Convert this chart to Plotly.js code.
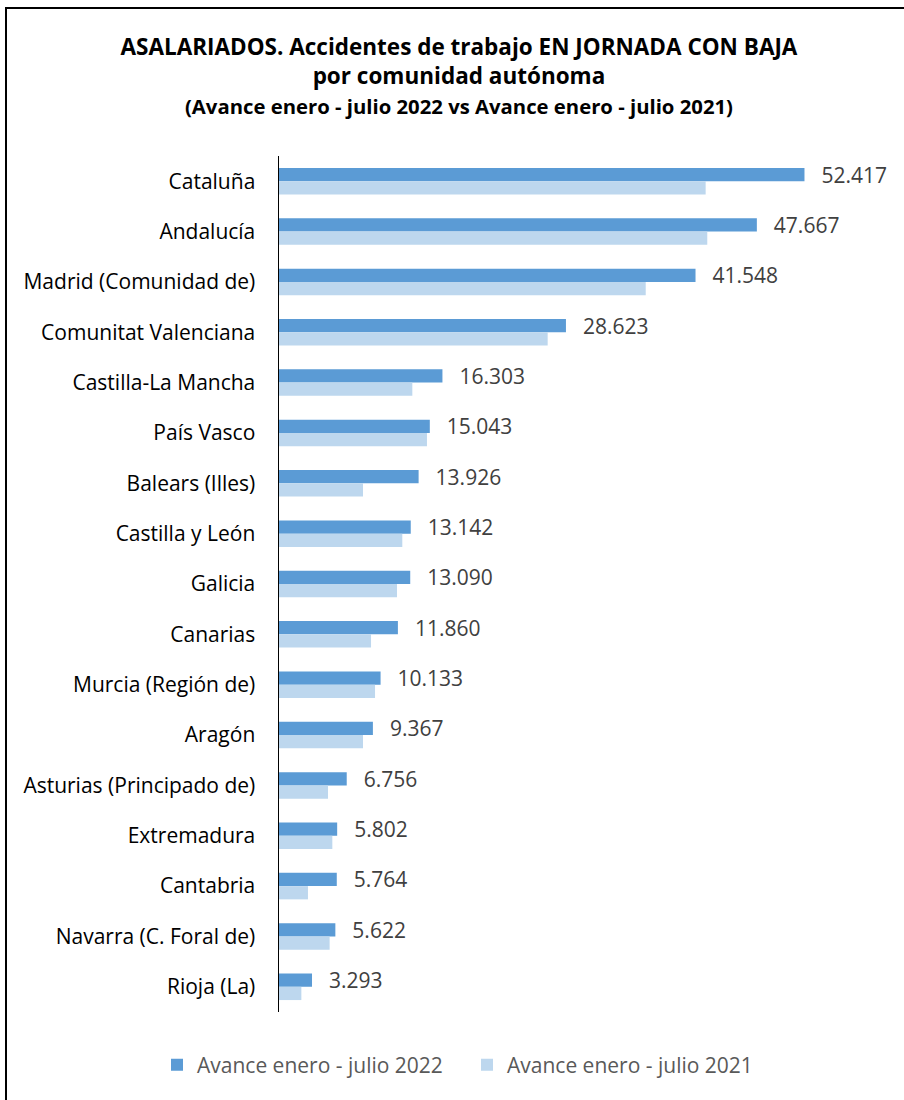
<!DOCTYPE html>
<html>
<head>
<meta charset="utf-8">
<script src="https://cdn.plot.ly/plotly-3.0.1.min.js"></script>
<style>
  html, body { margin: 0; padding: 0; background: #fff; overflow: hidden; }
  #wrap { position: relative; width: 904px; height: 1100px; }
  #chart { position: absolute; left: 0; top: 0; width: 904px; height: 1100px; }
  #frame { position: absolute; left: 5px; top: 7px; width: 2000px; height: 2000px;
           border: 2px solid #000; pointer-events: none; }
</style>
</head>
<body>
<div id="wrap">
  <div id="chart"></div>
  <div id="frame"></div>
</div>
<script>
const categories = ['Cataluña','Andalucía','Madrid (Comunidad de)','Comunitat Valenciana',
  'Castilla-La Mancha','País Vasco','Balears (Illes)','Castilla y León','Galicia','Canarias',
  'Murcia (Región de)','Aragón','Asturias (Principado de)','Extremadura','Cantabria',
  'Navarra (C. Foral de)','Rioja (La)'];
const values2022 = [52417,47667,41548,28623,16303,15043,13926,13142,13090,11860,10133,9367,6756,5802,5764,5622,3293];
const values2021 = [42560,42720,36580,26800,13300,14760,8380,12300,11770,9180,9580,8380,4890,5320,2890,5050,2230];
const seriesNames = ['Avance enero - julio 2022','Avance enero - julio 2021'];
const titleLines = ['ASALARIADOS. Accidentes de trabajo EN JORNADA CON BAJA','por comunidad autónoma'];
const subtitle = '(Avance enero - julio 2022 vs Avance enero - julio 2021)';

const FONT = '"Open Sans", Lato, "Liberation Sans", sans-serif';

const traces = [
  {
    type: 'bar', orientation: 'h', name: seriesNames[0], legend: 'legend',
    y: categories, x: values2022,
    marker: {color: '#5B9BD5'},
    texttemplate: '\u2002\u2009%{x:,.0f}', textposition: 'outside',
    constraintext: 'none',
    textfont: {family: FONT, size: 21, color: '#404040'},
    cliponaxis: false, hoverinfo: 'skip'
  },
  {
    type: 'bar', orientation: 'h', name: seriesNames[1], legend: 'legend2',
    y: categories, x: values2021,
    marker: {color: '#BDD7EE'},
    hoverinfo: 'skip'
  }
];

const legendBase = {
  orientation: 'h', xref: 'container', yref: 'container',
  xanchor: 'left', y: 1 - 1065/1100, yanchor: 'middle',
  font: {family: FONT, size: 21, color: '#595959'},
  itemwidth: 30, bgcolor: 'rgba(0,0,0,0)'
};

const layout = {
  width: 904, height: 1100,
  margin: {l: 279, r: 24, t: 156, b: 88},
  paper_bgcolor: '#fff', plot_bgcolor: '#fff',
  separators: ',.',
  barmode: 'group', bargap: 0.474, bargroupgap: 0,
  font: {family: FONT, color: '#000'},
  title: {
    text: '<b>' + titleLines.join('<br>') + '</b>',
    font: {family: FONT, size: 22.5, color: '#000'},
    xref: 'container', x: 0.5077, xanchor: 'center',
    yref: 'container', y: 1 - 55/1100, yanchor: 'middle'
  },
  annotations: [{
    text: '<b>' + subtitle + '</b>',
    xref: 'paper', yref: 'paper', x: 0.2995, y: (1012-106)/856,
    xanchor: 'center', yanchor: 'middle', showarrow: false,
    font: {family: FONT, size: 20.3, color: '#000'}
  }],
  xaxis: {
    range: [0, 59950], showgrid: false, zeroline: false, showline: false,
    showticklabels: false, ticks: '', fixedrange: true
  },
  yaxis: {
    autorange: 'reversed', showgrid: false, zeroline: false,
    showline: true, linecolor: '#000', linewidth: 1.5,
    ticks: '', ticklabelstandoff: 18,
    tickfont: {family: FONT, size: 21, color: '#000'}
  },
  showlegend: true,
  legend: Object.assign({}, legendBase, {x: 157/904}),
  legend2: Object.assign({}, legendBase, {x: 467/904})
};

Plotly.newPlot('chart', traces, layout, {displayModeBar: false, staticPlot: true});
</script>
</body>
</html>
